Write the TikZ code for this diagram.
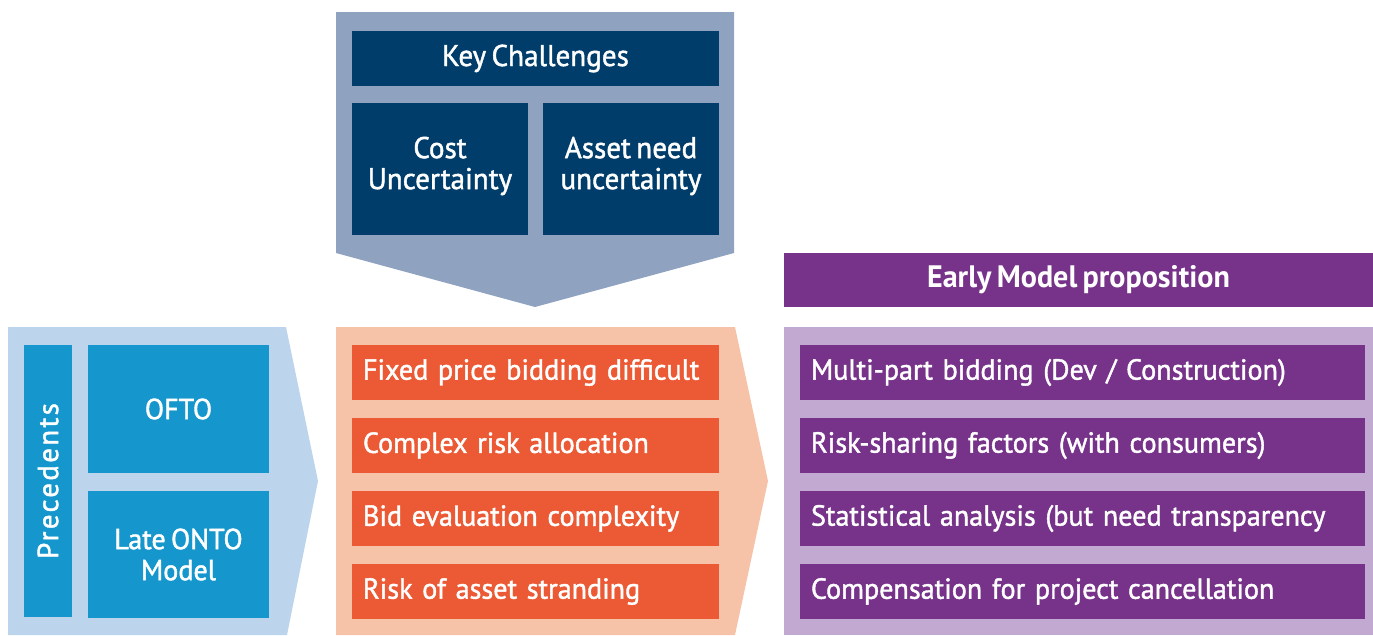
\documentclass[tikz,border=0pt]{standalone}
\usepackage{fontspec}
\setmainfont[FakeBold=1.4, FakeStretch=0.97, WordSpace=0.7, BoldFeatures={FakeBold=0}]{PT Sans}
\newfontfamily\spacedfont[FakeBold=1.4, LetterSpace=8]{PT Sans}
\begin{document}
\definecolor{steelpanel}{HTML}{8FA2C0}
\definecolor{navybox}{HTML}{003D6A}
\definecolor{skypanel}{HTML}{BCD4EC}
\definecolor{bluebox}{HTML}{1597CD}
\definecolor{peachpanel}{HTML}{F7C3A8}
\definecolor{orangebox}{HTML}{EC5A35}
\definecolor{lavpanel}{HTML}{C2A9D2}
\definecolor{purplebox}{HTML}{763389}
\begin{tikzpicture}[x=1pt,y=-1pt,
  every node/.style={inner sep=0pt, outer sep=0pt, text=white,
    font=\fontsize{29}{31}\selectfont},
  cbox/.style={fill=#1, minimum width=176pt, minimum height=132pt},
  ctext/.style={align=center, font=\fontsize{30}{31}\selectfont},
  rowbox/.style={fill=#1, minimum height=55pt, anchor=west, align=left,
    inner xsep=11pt},
  wide/.style={text width=367pt-22pt},
  wider/.style={text width=565pt-22pt}]
\useasboundingbox (0,0) rectangle (1373,635);

% background chevrons and panels
\fill[steelpanel] (336,12) -- (734,12) -- (734,253) -- (535,307) -- (336,253) -- cycle;
\fill[skypanel] (8,327) -- (286,327) -- (318,481) -- (287,635) -- (8,635) -- cycle;
\fill[peachpanel] (336,327) -- (735,327) -- (768,481) -- (735,635) -- (336,635) -- cycle;
\fill[lavpanel] (784,327) rectangle (1373,635);

% key challenges
\node[fill=navybox, minimum width=367pt, minimum height=55pt,
  font=\fontsize{30}{31}\selectfont] (kc) at (535.5,58.5) {Key Challenges};
\node[cbox=navybox] (cost) at (440,169) {};
\node[ctext] (costtxt) at ([yshift=3pt]cost.center) {Cost\\Uncertainty};
\node[cbox=navybox] (asset) at (631,169) {};
\node[ctext] (assettxt) at ([yshift=3pt]asset.center) {Asset need\\uncertainty};

% precedents
\node[fill=bluebox, minimum width=272pt, minimum height=48pt, rotate=90,
  font=\fontsize{29}{31}\spacedfont] (prec) at (48,481) {Precedents};
\node[fill=bluebox, minimum width=181pt, minimum height=128pt, align=center] (ofto) at (178.5,409) {OFTO};
\node[fill=bluebox, minimum width=181pt, minimum height=127pt, align=center] (onto) at (178.5,554.5) {Late ONTO\\Model};

% issues
\node[rowbox=orangebox, wide] (i1) at (352,372.5) {\mbox{Fixed price bidding difficult}};
\node[rowbox=orangebox, wide] (i2) at (352,445.5) {\mbox{Complex risk allocation}};
\node[rowbox=orangebox, wide] (i3) at (352,518.5) {\mbox{Bid evaluation complexity}};
\node[rowbox=orangebox, wide] (i4) at (352,591.5) {\mbox{Risk of asset stranding}};

% early model proposition
\node[fill=purplebox, minimum width=589pt, minimum height=54pt,
  font=\fontsize{31}{31}\selectfont\bfseries] (emp) at (1078.5,280) {Early Model proposition};
\node[rowbox=purplebox, wider] (p1) at (800,372.5) {\mbox{Multi-part bidding (Dev / Construction)}};
\node[rowbox=purplebox, wider] (p2) at (800,445.5) {\mbox{Risk-sharing factors (with consumers)}};
\node[rowbox=purplebox, wider] (p3) at (800,518.5) {\mbox{Statistical analysis (but need transparency}};
\node[rowbox=purplebox, wider] (p4) at (800,591.5) {\mbox{Compensation for project cancellation}};
\end{tikzpicture}
\end{document}
